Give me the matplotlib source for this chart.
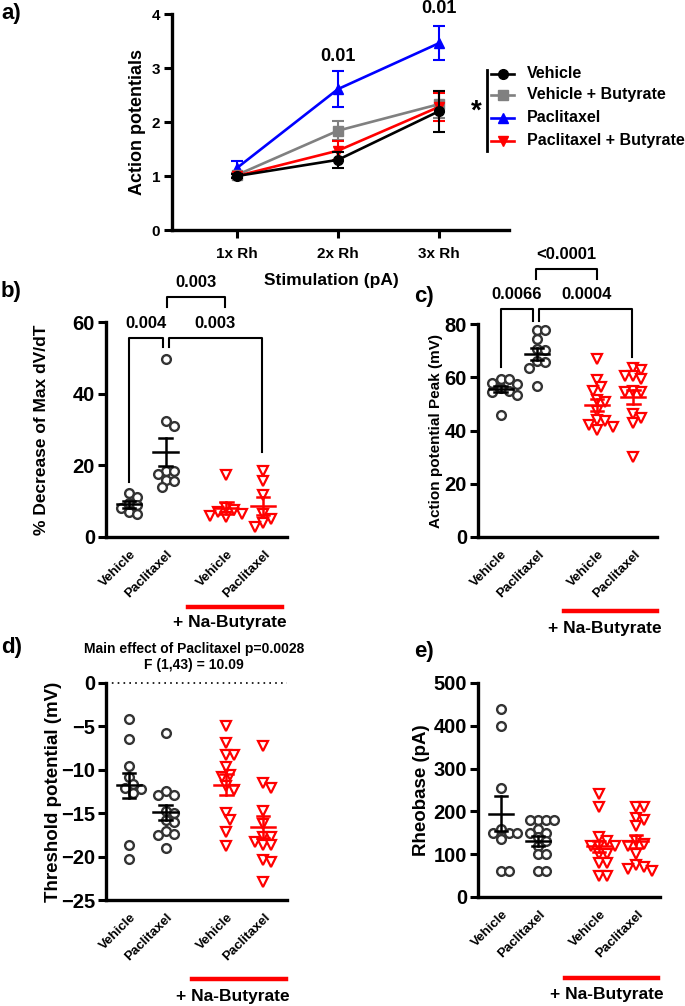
import numpy as np
import matplotlib
matplotlib.use('Agg')
import matplotlib.pyplot as plt
from matplotlib.lines import Line2D
from matplotlib.transforms import ScaledTranslation

plt.rcParams['font.family'] = ['Liberation Sans', 'DejaVu Sans']
plt.rcParams['font.weight'] = 'bold'
plt.rcParams['axes.labelweight'] = 'bold'

W, H = 685, 1006

# ---- panel a: action potentials vs stimulation
stim_labels = ['1x Rh', '2x Rh', '3x Rh']
veh_ap = [1.00, 1.30, 2.20]
veh_ap_sem = [0.03, 0.15, 0.38]
vehbut_ap = [1.02, 1.84, 2.33]
vehbut_ap_sem = [0.03, 0.17, 0.25]
pac_ap = [1.15, 2.61, 3.46]
pac_ap_sem = [0.12, 0.33, 0.32]
pacbut_ap = [1.00, 1.47, 2.28]
pacbut_ap_sem = [0.03, 0.18, 0.26]

# ---- scatter panels: Vehicle, Paclitaxel, Vehicle+But, Paclitaxel+But
group_labels = ['Vehicle', 'Paclitaxel', 'Vehicle', 'Paclitaxel']
group_pos = [0, 1, 2.65, 3.65]

dvdt_veh = [12.3, 11.2, 9.5, 8.8, 8.0, 7.0, 6.5]
dvdt_pac = [49.6, 32.4, 31.0, 18.5, 18.3, 17.6, 16.0, 15.5, 14.0]
dvdt_vehbut = [17.2, 8.0, 7.5, 7.0, 6.5, 6.0, 5.5]
dvdt_pacbut = [18.5, 15.5, 11.8, 6.5, 5.0, 3.8, 2.8]
dvdt_mean = [9.1, 23.7, 8.1, 8.6]
dvdt_sem = [1.0, 4.0, 1.8, 2.5]

peak_veh = [59.5, 59.5, 58.0, 57.5, 56.0, 55.0, 54.5, 53.5, 46.0]
peak_pac = [77.6, 77.6, 74.5, 70.7, 70.2, 66.0, 65.7, 63.5, 56.6]
peak_vehbut = [66.7, 59.0, 56.2, 54.7, 51.6, 50.6, 47.2, 44.0, 43.4, 42.1, 41.5, 40.3]
peak_pacbut = [63.5, 62.6, 60.4, 59.4, 60.4, 55.0, 54.3, 54.3, 46.3, 44.7, 43.0, 30.2]
peak_mean = [55.6, 68.6, 49.7, 52.5]
peak_sem = [1.3, 2.2, 2.3, 2.6]

thr_veh = [-4.1, -6.5, -9.6, -10.8, -11.6, -12.1, -12.2, -12.7, -18.7, -20.3]
thr_pac = [-5.8, -12.4, -12.9, -12.9, -14.8, -15.0, -15.8, -16.0, -17.1, -17.4, -17.5, -19.0]
thr_vehbut = [-4.9, -6.9, -8.3, -8.3, -9.7, -10.6, -10.8, -12.3, -11.9, -15.0, -15.8, -17.2, -18.8]
thr_pacbut = [-7.3, -11.5, -12.1, -14.8, -16.3, -17.7, -17.7, -18.3, -18.7, -18.7, -20.4, -20.6, -22.9]
thr_mean = [-11.8, -14.9, -11.7, -16.6]
thr_sem = [1.4, 0.9, 1.2, 1.25]

rheo_veh = [440, 400, 255, 160, 150, 150, 150, 135, 60, 60]
rheo_pac = [180, 180, 180, 180, 160, 150, 150, 140, 130, 120, 100, 100, 60, 60]
rheo_vehbut = [240, 210, 140, 130, 120, 120, 120, 100, 100, 80, 80, 50, 50]
rheo_pacbut = [210, 210, 185, 180, 165, 130, 125, 120, 100, 75, 70, 65, 60]
rheo_mean = [195, 131, 118, 130]
rheo_sem = [41, 11, 12, 15]

BLACK_PT = '#333333'
RED = '#ff0000'

fig = plt.figure(figsize=(W / 100, H / 100), dpi=100)


def add_ax(l, t, r, b):
    return fig.add_axes([l / W, 1 - b / H, (r - l) / W, (b - t) / H])


def fpx(x, y):
    return x / W, 1 - y / H


def style(ax, tick_fs):
    for s in ['top', 'right']:
        ax.spines[s].set_visible(False)
    for s in ['left', 'bottom']:
        ax.spines[s].set_linewidth(2.4)
    ax.tick_params(width=2.2, length=5.5, labelsize=tick_fs, pad=2.5)


def swarm(vals, ylim, h_px, upx, d=8.0):
    ypx = (np.asarray(vals, float) - ylim[0]) / (ylim[1] - ylim[0]) * h_px
    xs = np.zeros(len(ypx))
    done = []
    for i in np.argsort(-ypx):
        placed = False
        for k in range(0, 30):
            cands = [0.0] if k == 0 else [k * d / 2, -k * d / 2]
            for c in cands:
                if all((c - xs[j]) ** 2 + (ypx[i] - ypx[j]) ** 2 >= d ** 2 for j in done):
                    xs[i] = c
                    placed = True
                    break
            if placed:
                break
        done.append(i)
    return xs / upx


def scatter_panel(ax, data, means, sems, ylim, h_px, upx):
    style(ax, 14.5)
    for k, vals in enumerate(data):
        red = k >= 2
        off = swarm(vals, ylim, h_px, upx)
        x = group_pos[k] + off
        if red:
            ax.plot(x, vals, 'v', ms=7.3, mfc='white', mec=RED, mew=1.6, ls='none', clip_on=False, zorder=3)
        else:
            ax.plot(x, vals, 'o', ms=6.3, mfc='white', mec=BLACK_PT, mew=1.7, ls='none', clip_on=False, zorder=3)
        c = RED if red else 'black'
        p = group_pos[k]
        m, s = means[k], sems[k]
        ax.plot([p - 0.33, p + 0.33], [m, m], color=c, lw=1.8, zorder=4, clip_on=False)
        ax.plot([p, p], [m - s, m + s], color=c, lw=1.8, zorder=4, clip_on=False)
        for yy in (m - s, m + s):
            ax.plot([p - 0.17, p + 0.17], [yy, yy], color=c, lw=1.8, zorder=4, clip_on=False)
    ax.set_xlim(-0.62, 4.3)
    ax.set_ylim(*ylim)
    ax.set_xticks(group_pos)
    ax.set_xticklabels(group_labels, rotation=45, ha='right', va='center',
                       rotation_mode='anchor', fontsize=9.5, fontweight='bold')
    ax.tick_params(axis='x', length=0, pad=11, labelsize=9.5)
    for lab in ax.get_xticklabels():
        lab.set_transform(lab.get_transform() + ScaledTranslation(0.05, 0, fig.dpi_scale_trans))


def bracket(ax, x1, x2, y, y1, y2, text, ty, tx=None):
    ax.plot([x1, x1, x2, x2], [y1, y, y, y2], color='black', lw=1.5, clip_on=False)
    if text:
        ax.text((x1 + x2) / 2 if tx is None else tx, ty, text, ha='center', va='center',
                fontsize=12, fontweight='bold', clip_on=False)


def butyrate(x1, x2, yl, xt, yt):
    fig.add_artist(Line2D([x1 / W, x2 / W], [1 - yl / H, 1 - yl / H], color=RED, lw=3.2))
    fig.text(*fpx(xt, yt), '+ Na-Butyrate', ha='center', va='center', fontsize=12.5, fontweight='bold')


# ================= panel a
axa = add_ax(172, 14, 509, 230)
style(axa, 11)
xs = np.arange(len(stim_labels))
series = [
    ('Vehicle', veh_ap, veh_ap_sem, 'black', 'o'),
    ('Vehicle + Butyrate', vehbut_ap, vehbut_ap_sem, '#808080', 's'),
    ('Paclitaxel', pac_ap, pac_ap_sem, '#0000ff', '^'),
    ('Paclitaxel + Butyrate', pacbut_ap, pacbut_ap_sem, RED, 'v'),
]
zs = {'Vehicle': 6, 'Vehicle + Butyrate': 4, 'Paclitaxel': 3, 'Paclitaxel + Butyrate': 5}
for name, m, s, c, mk in series:
    axa.errorbar(xs, m, yerr=s, color=c, marker=mk, ms=7, lw=1.9, elinewidth=1.5,
                 capsize=4.5, capthick=1.5, zorder=zs[name], clip_on=False)
axa.set_xlim(-0.644, 2.693)
axa.set_ylim(0, 4)
axa.set_yticks([0, 1, 2, 3, 4])
axa.set_xticks(xs)
axa.set_xticklabels(stim_labels)
axa.tick_params(axis='x', pad=7)
axa.tick_params(axis='y', pad=3)
axa.set_ylabel('Action potentials', fontsize=13, fontweight='bold', va='center')
axa.yaxis.set_label_coords((138 - 172) / 337, 0.5)
axa.set_xlabel('Stimulation (pA)', fontsize=12.5, fontweight='bold', va='center')
axa.xaxis.set_label_coords((331 - 172) / 337, (230 - 281) / 216)
axa.text(1, 3.22, '0.01', ha='center', va='center', fontsize=13, fontweight='bold')
axa.text(2, 4.1, '0.01', ha='center', va='center', fontsize=13, fontweight='bold', clip_on=False)

# legend
leg_y = [74, 95, 118, 141]
for (name, m, s, c, mk), yy in zip(series, leg_y):
    fig.add_artist(Line2D([491 / W, 502.5 / W, 514 / W], [1 - yy / H] * 3, color=c, lw=1.9,
                          marker=mk, ms=7, markevery=[1]))
    fig.text(*fpx(527, yy), name, ha='left', va='center', fontsize=11.5, fontweight='bold')
fig.add_artist(Line2D([487 / W, 487 / W], [1 - 70 / H, 1 - 151 / H], color='black', lw=2))
fig.text(*fpx(476, 112), '*', ha='center', va='center', fontsize=20, fontweight='bold')

# ================= panel b
axb = add_ax(106, 322, 287, 537)
scatter_panel(axb, [dvdt_veh, dvdt_pac, dvdt_vehbut, dvdt_pacbut], dvdt_mean, dvdt_sem,
              (0, 60), 215, 37)
axb.set_yticks([0, 20, 40, 60])
axb.set_ylabel('% Decrease of Max dV/dT', fontsize=12.5, fontweight='bold', va='center')
axb.yaxis.set_label_coords((42 - 106) / 181, 0.5)
bracket(axb, 0, 0.92, 55.5, 15.3, 53.0, '0.004', 59.7, tx=0.46)
bracket(axb, 1.08, 3.62, 55.5, 53.0, 23.7, '0.003', 59.7, tx=2.35)
bracket(axb, 1.03, 2.62, 67.0, 64.2, 64.2, '0.003', 71.1)
butyrate(188, 282, 607, 229.5, 623)

# ================= panel c
axc = add_ax(478, 324, 657, 537)
scatter_panel(axc, [peak_veh, peak_pac, peak_vehbut, peak_pacbut], peak_mean, peak_sem,
              (0, 80), 213, 36)
axc.set_yticks([0, 20, 40, 60, 80])
axc.set_ylabel('Action potential Peak (mV)', fontsize=11, fontweight='bold', va='center')
axc.yaxis.set_label_coords((436 - 478) / 179, 0.5)
bracket(axc, 0, 0.89, 85.7, 63.8, 81.1, '0.0066', 91.0, tx=0.44)
bracket(axc, 1.06, 3.61, 85.7, 81.1, 67.5, '0.0004', 91.0, tx=2.36)
bracket(axc, 0.97, 2.64, 100.8, 97.0, 97.0, '<0.0001', 106.0)
butyrate(564, 657, 611, 605, 628)

# ================= panel d
axd = add_ax(106, 683, 287, 900)
scatter_panel(axd, [thr_veh, thr_pac, thr_vehbut, thr_pacbut], thr_mean, thr_sem,
              (-25, 0), 217, 37)
axd.set_yticks([0, -5, -10, -15, -20, -25])
axd.axhline(0, color='black', lw=1.2, ls=(0, (1, 2.5)), clip_on=False)
axd.set_ylabel('Threshold potential (mV)', fontsize=13.5, fontweight='bold', va='center')
axd.yaxis.set_label_coords((54 - 106) / 181, 0.5)
fig.text(*fpx(194, 649), 'Main effect of Paclitaxel p=0.0028', ha='center', va='center',
         fontsize=10, fontweight='bold')
fig.text(*fpx(194, 665), 'F (1,43) = 10.09', ha='center', va='center', fontsize=10, fontweight='bold')
butyrate(192, 286, 979, 233, 996)

# ================= panel e
axe = add_ax(478, 683, 660, 897)
scatter_panel(axe, [rheo_veh, rheo_pac, rheo_vehbut, rheo_pacbut], rheo_mean, rheo_sem,
              (0, 500), 214, 36)
axe.set_yticks([0, 100, 200, 300, 400, 500])
axe.set_ylabel('Rheobase (pA)', fontsize=13.5, fontweight='bold', va='center')
axe.yaxis.set_label_coords((422 - 478) / 182, 0.5)
butyrate(565, 658, 978, 607, 995)

# panel letters
for lt, (x, y) in zip(['a)', 'b)', 'c)', 'd)', 'e)'],
                      [(1, 14), (1, 292), (414, 297), (1, 647), (414, 652)]):
    fig.text(*fpx(x, y), lt, ha='left', va='center', fontsize=16, fontweight='bold')

fig.savefig('out.png', dpi=100)
